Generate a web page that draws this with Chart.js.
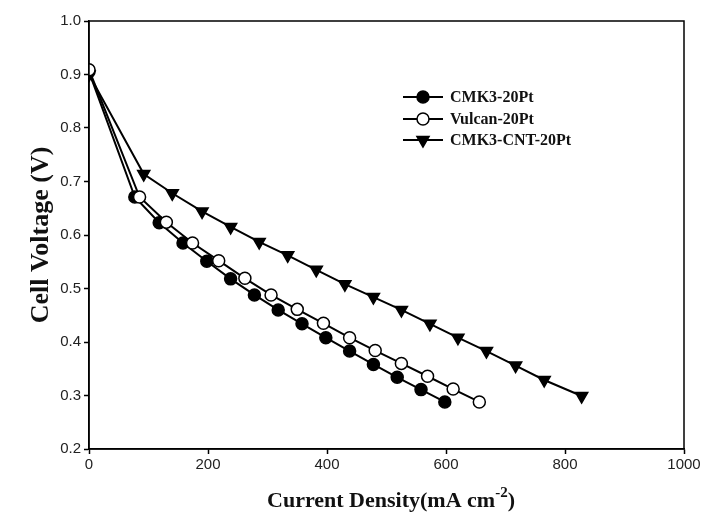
<!DOCTYPE html>
<html>
<head>
<meta charset="utf-8">
<script src="https://cdn.jsdelivr.net/npm/chart.js@4/dist/chart.umd.min.js"></script>
<style>
  html, body { margin: 0; padding: 0; background: #fff; }
  #wrap { width: 703px; height: 517px; }
</style>
</head>
<body>
<div id="wrap"><canvas id="myChart" width="703" height="517"></canvas></div>
<script>
// 데이터
var seriesNames = ['CMK3-20Pt', 'Vulcan-20Pt', 'CMK3-CNT-20Pt'];

var currentCMK3 = [0, 77, 118, 158, 198, 238, 278, 318, 358, 398, 438, 478, 518, 558, 598];
var voltageCMK3 = [0.905, 0.671, 0.623, 0.585, 0.551, 0.518, 0.488, 0.460, 0.434, 0.408, 0.383, 0.358, 0.334, 0.311, 0.288];

var currentVulcan = [0, 85, 130, 174, 218, 262, 306, 350, 394, 438, 481, 525, 569, 612, 656];
var voltageVulcan = [0.909, 0.671, 0.624, 0.585, 0.552, 0.519, 0.488, 0.461, 0.435, 0.408, 0.384, 0.360, 0.336, 0.312, 0.288];

var currentCNT = [0, 92, 140, 190, 238, 286, 334, 382, 430, 478, 525, 573, 620, 668, 717, 765, 828];
var voltageCNT = [0.900, 0.714, 0.678, 0.644, 0.615, 0.587, 0.562, 0.535, 0.508, 0.484, 0.460, 0.434, 0.408, 0.383, 0.356, 0.329, 0.299];

var xTicks = [0, 200, 400, 600, 800, 1000];
var yTicks = [0.2, 0.3, 0.4, 0.5, 0.6, 0.7, 0.8, 0.9, 1.0];

function toPoints(xs, ys) {
	var pts = [];
	for (var i = 0; i < xs.length; i++) {
		pts.push({ x: xs[i], y: ys[i] });
	}
	return pts;
}

var serifBold = "bold {size}px 'Liberation Serif', 'Times New Roman', serif";
function serif(size) { return serifBold.replace('{size}', size); }

// 범례: 선 + 마커
var lineLegend = {
	id : 'lineLegend',
	afterDraw : function(chart) {
		var ctx = chart.ctx;
		var rows = [97, 119, 140];
		chart.data.datasets.forEach(function(ds, i) {
			var y = rows[i];
			ctx.save();
			ctx.strokeStyle = '#000';
			ctx.lineWidth = 2;
			ctx.beginPath();
			ctx.moveTo(403, y);
			ctx.lineTo(443, y);
			ctx.stroke();
			ctx.fillStyle = ds.pointBackgroundColor;
			ctx.strokeStyle = ds.pointBorderColor;
			ctx.lineWidth = ds.pointBorderWidth;
			Chart.helpers.drawPoint(ctx, {
				pointStyle : ds.pointStyle,
				radius : ds.pointRadius,
				rotation : ds.pointRotation || 0,
				borderWidth : ds.pointBorderWidth
			}, 423, y);
			ctx.fillStyle = '#111';
			ctx.font = serif(16);
			ctx.textAlign = 'left';
			ctx.textBaseline = 'middle';
			ctx.fillText(ds.label, 450, y + 1);
			ctx.restore();
		});
	}
};

// 테두리 + x축 제목 (위첨자)
var frameAndTitle = {
	id : 'frameAndTitle',
	afterDraw : function(chart) {
		var ctx = chart.ctx;
		var a = chart.chartArea;
		ctx.save();
		ctx.strokeStyle = '#000';
		ctx.lineWidth = 1.5;
		ctx.strokeRect(a.left, a.top, a.right - a.left, a.bottom - a.top);

		var main = 'Current Density(mA cm';
		var sup = '-2';
		var tail = ')';
		ctx.fillStyle = '#111';
		ctx.textBaseline = 'alphabetic';
		ctx.font = serif(22);
		var w1 = ctx.measureText(main).width;
		var w3 = ctx.measureText(tail).width;
		ctx.font = serif(15);
		var w2 = ctx.measureText(sup).width;
		var total = w1 + w2 + w3;
		var x = 391 - total / 2;
		var base = 507;
		ctx.textAlign = 'left';
		ctx.font = serif(22);
		ctx.fillText(main, x, base);
		ctx.font = serif(15);
		ctx.fillText(sup, x + w1, base - 10);
		ctx.font = serif(22);
		ctx.fillText(tail, x + w1 + w2, base);
		ctx.restore();
	}
};

function makeDataset(label, xs, ys, style, fill, rotation, radius, order) {
	return {
		label : label,
		data : toPoints(xs, ys),
		order : order,
		borderColor : '#000',
		borderWidth : 2,
		tension : 0,
		fill : false,
		pointStyle : style,
		pointRadius : radius,
		pointHoverRadius : radius,
		pointRotation : rotation,
		pointBackgroundColor : fill,
		pointBorderColor : '#000',
		pointBorderWidth : 1.5
	};
}

var ctx = document.getElementById('myChart');
var myChart = new Chart(ctx, {
	type : 'line',
	data : {
		datasets : [
			makeDataset(seriesNames[0], currentCMK3, voltageCMK3, 'circle', '#000', 0, 6, 1),
			makeDataset(seriesNames[1], currentVulcan, voltageVulcan, 'circle', '#fff', 0, 6, 0),
			makeDataset(seriesNames[2], currentCNT, voltageCNT, 'triangle', '#000', 180, 7, 2)
		]
	},
	options : {
		responsive : false,
		animation : false,
		layout : {
			padding : { top : 21, right : 19, left : 0, bottom : 0 }
		},
		plugins : {
			legend : { display : false },
			tooltip : { enabled : false }
		},
		scales : {
			x : {
				type : 'linear',
				min : 0,
				max : 1000,
				afterBuildTicks : function(scale) {
					scale.ticks = xTicks.map(function(v) { return { value : v }; });
				},
				afterFit : function(scale) { scale.height = 68; },
				grid : {
					drawOnChartArea : false,
					drawTicks : true,
					tickLength : 5,
					tickWidth : 1.5,
					tickColor : '#000'
				},
				border : { color : '#000', width : 1.5 },
				ticks : {
					color : '#222',
					padding : 2,
					maxRotation : 0,
					font : { family : "'Liberation Sans', Arial, sans-serif", size : 15 },
					callback : function(value) { return String(value); }
				}
			},
			y : {
				type : 'linear',
				min : 0.2,
				max : 1.0,
				afterBuildTicks : function(scale) {
					scale.ticks = yTicks.map(function(v) { return { value : v }; });
				},
				afterFit : function(scale) { scale.width = 89; },
				grid : {
					drawOnChartArea : false,
					drawTicks : true,
					tickLength : 5,
					tickWidth : 1.5,
					tickColor : '#000'
				},
				border : { color : '#000', width : 1.5 },
				ticks : {
					color : '#222',
					padding : 3,
					font : { family : "'Liberation Sans', Arial, sans-serif", size : 15 },
					callback : function(value) { return Number(value).toFixed(1); }
				},
				title : {
					display : true,
					text : 'Cell Voltage (V)',
					color : '#111',
					font : { family : "'Liberation Serif', 'Times New Roman', serif", size : 26, weight : 'bold' },
					padding : { top : 26, bottom : 0 }
				}
			}
		}
	},
	plugins : [ frameAndTitle, lineLegend ]
});
</script>
</body>
</html>
